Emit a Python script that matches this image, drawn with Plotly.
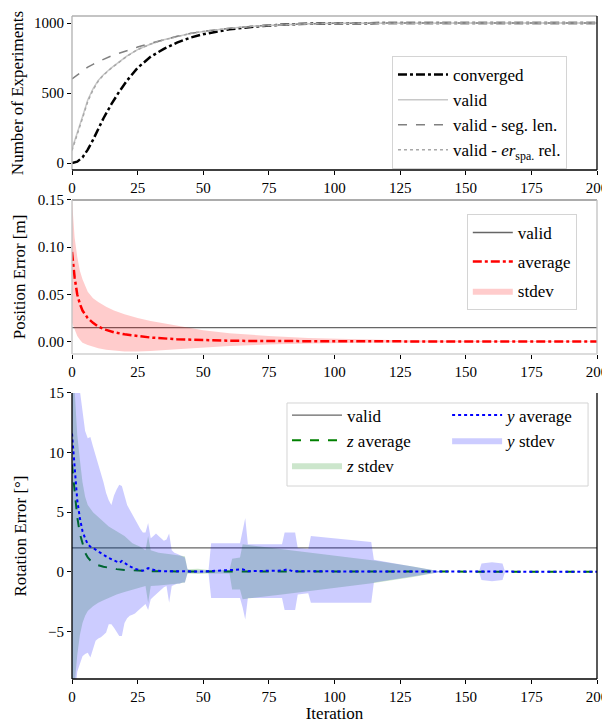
import plotly.graph_objects as go
from plotly.subplots import make_subplots

# ---- panel 1: number of experiments ----
exp_iter = [0, 2, 4, 6, 8, 10, 12, 15, 18, 21, 25, 30, 35, 40, 45, 50, 60, 70, 80, 90, 100, 125, 150, 175, 200]
converged = [0, 10, 40, 95, 165, 240, 320, 420, 510, 590, 680, 760, 815, 860, 895, 920, 955, 975, 988, 995, 998, 1000, 1000, 1000, 1000]
valid = [100, 210, 330, 450, 530, 590, 630, 680, 725, 765, 810, 850, 880, 905, 925, 940, 962, 978, 988, 995, 998, 1000, 1000, 1000, 1000]
valid_seg_len = [600, 630, 660, 685, 705, 725, 740, 765, 785, 805, 828, 856, 882, 905, 925, 940, 962, 978, 988, 995, 998, 1000, 1000, 1000, 1000]
valid_er_rel = [90, 200, 320, 440, 522, 585, 628, 678, 724, 764, 810, 850, 880, 905, 925, 940, 962, 978, 988, 995, 998, 1000, 1000, 1000, 1000]

# ---- panel 2: position error [m] ----
pos_iter = [0, 1, 2, 3, 4, 6, 8, 10, 13, 16, 20, 25, 30, 40, 50, 60, 75, 90, 110, 125, 150, 175, 200]
pos_avg = [0.095, 0.068, 0.050, 0.040, 0.033, 0.025, 0.020, 0.016, 0.0125, 0.010, 0.0078, 0.0058, 0.0044,
           0.0026, 0.0015, 0.0010, 0.0007, 0.0005, 0.0004, 0.0003, 0.0002, 0.0002, 0.0002]
pos_hi = [0.15, 0.11, 0.09, 0.075, 0.066, 0.053, 0.046, 0.042, 0.037, 0.033, 0.029, 0.025, 0.022,
          0.017, 0.012, 0.009, 0.006, 0.004, 0.0025, 0.0015, 0.001, 0.0006, 0.0005]
pos_lo = [0.02, 0.012, 0.006, 0.002, -0.001, -0.0035, -0.0055, -0.007, -0.0085, -0.0095, -0.0103, -0.0103,
          -0.0098, -0.008, -0.006, -0.0045, -0.003, -0.0018, -0.001, -0.0007, -0.0004, -0.0002, -0.0001]
pos_valid = 0.015

# ---- panel 3: rotation error ----
rot_valid = 2.0
y_band_iter = [0, 1, 2, 3, 4, 5, 6, 7, 8, 9, 10, 11, 12, 13, 14, 15, 16, 17, 18, 19, 20, 21, 22, 23, 24, 25,
               26, 27, 28, 29, 30, 31, 32, 33, 34, 35, 36, 37, 38, 39, 40, 41, 42, 43, 44, 45, 52, 53, 64,
               65, 66, 67, 80, 81, 85, 86, 90, 91, 114, 115, 130, 141, 155, 156, 160, 164, 165, 200]
y_std_hi = [22, 19, 16.5, 15.2, 13.3, 11.8, 11.2, 11.3, 10.5, 9.8, 9.0, 8.3, 7.5, 6.6, 6.0, 5.6, 6.4, 6.9,
            7.3, 7.2, 6.3, 5.6, 5.2, 4.8, 4.3, 4.0, 3.6, 3.3, 3.3, 4.1, 2.8, 3.0, 3.2, 3.0, 2.8, 2.6, 2.7,
            3.2, 1.8, 1.6, 1.5, 1.4, 1.3, 1.2, 0.2, 0.1, 0.1, 2.4, 2.4, 3.5, 4.5, 2.3, 2.3, 3.3, 3.3, 2.0,
            1.9, 3.0, 2.5, 1.0, 0.45, 0.0, 0.0, 0.7, 0.8, 0.7, 0.0, 0.0]
y_std_lo = [-14, -10.5, -8.4, -7.7, -7.1, -6.9, -6.8, -7.2, -6.5, -5.8, -5.6, -5.5, -5.3, -5.1, -4.4, -4.4,
            -4.7, -5.0, -5.4, -5.4, -4.3, -3.9, -3.7, -3.6, -3.5, -3.3, -3.1, -2.9, -2.7, -3.2, -2.3, -2.1,
            -1.9, -1.7, -1.5, -1.3, -1.2, -2.6, -1.2, -1.1, -1.0, -1.0, -0.9, -0.9, -0.1, -0.1, -0.1, -2.2,
            -2.2, -3.0, -4.0, -2.2, -2.2, -3.2, -3.2, -1.9, -1.8, -2.6, -2.6, -0.9, -0.4, 0.0, 0.0, -0.7,
            -0.8, -0.7, 0.0, 0.0]
z_band_iter = [0, 1, 2, 3, 4, 5, 6, 8, 10, 12, 14, 17, 20, 23, 26, 28, 29, 30, 33, 36, 40, 43, 44, 48, 52,
               60, 61, 64, 65, 80, 100, 115, 130, 141, 200]
z_std_hi = [19, 15.5, 11.5, 9.4, 7.5, 6.3, 5.6, 5.0, 4.6, 4.2, 3.8, 3.4, 3.0, 2.4, 2.1, 1.8, 3.0, 1.8, 1.6,
            1.5, 1.4, 1.3, 0.2, 0.25, 0.15, 0.15, 1.1, 1.2, 2.3, 1.9, 1.35, 0.95, 0.45, 0.0, 0.0]
z_std_lo = [-12, -9.5, -7.0, -5.3, -4.3, -3.7, -3.3, -2.9, -2.6, -2.4, -2.2, -1.9, -1.7, -1.5, -1.3, -1.2,
            -2.6, -1.2, -1.15, -1.1, -1.0, -0.9, -0.15, -0.2, -0.15, -0.15, -1.5, -1.5, -2.3, -1.9, -1.35,
            -0.95, -0.45, 0.0, 0.0]
z_avg_iter = [0, 1, 2, 3, 4, 5, 6, 7, 8, 10, 12, 14, 17, 20, 25, 30, 40, 60, 100, 200]
z_avg = [9.0, 6.6, 4.6, 3.2, 2.3, 1.6, 1.2, 0.95, 0.8, 0.55, 0.42, 0.32, 0.22, 0.15, 0.08, 0.05, 0.03, 0.02, 0.01, 0.0]
y_avg_iter = [0, 1, 2, 3, 4, 5, 6, 7, 8, 10, 12, 14, 16, 18, 19, 20, 22, 24, 26, 27, 29, 30, 32, 35, 40,
              50, 65, 67, 80, 82, 84, 100, 200]
y_avg = [11.6, 9.0, 6.0, 4.5, 3.4, 2.8, 2.3, 2.1, 2.0, 1.7, 1.4, 1.15, 0.95, 0.75, 0.9, 0.75, 0.45, 0.25,
         0.12, 0.08, 0.3, 0.25, 0.1, 0.05, 0.03, 0.02, 0.2, 0.05, 0.1, 0.2, 0.05, 0.03, 0.0]

x_ticks = [0, 25, 50, 75, 100, 125, 150, 175, 200]
FONT = "Liberation Serif"

fig = make_subplots(rows=3, cols=1, shared_xaxes=False)

# panel 1
fig.add_trace(go.Scatter(x=exp_iter, y=converged, mode="lines", name="converged", legend="legend",
                         line=dict(color="black", width=2.5, dash="dashdot")), row=1, col=1)
fig.add_trace(go.Scatter(x=exp_iter, y=valid, mode="lines", name="valid", legend="legend",
                         line=dict(color="#c8c8c8", width=1.5)), row=1, col=1)
fig.add_trace(go.Scatter(x=exp_iter, y=valid_seg_len, mode="lines", name="valid - seg. len.", legend="legend",
                         line=dict(color="#808080", width=1.5, dash="dash")), row=1, col=1)
fig.add_trace(go.Scatter(x=exp_iter, y=valid_er_rel, mode="lines", legend="legend",
                         name="valid - <i>er</i><sub>spa.</sub> rel.",
                         line=dict(color="#a8a8a8", width=1.5, dash="dot")), row=1, col=1)

# panel 2 (one legend group per entry so the rows can be spaced)
fig.add_trace(go.Scatter(x=[0, 200], y=[pos_valid, pos_valid], mode="lines", name="valid", legend="legend2",
                         legendgroup="p_valid", line=dict(color="#666666", width=1.3)), row=2, col=1)
fig.add_trace(go.Scatter(x=pos_iter, y=pos_avg, mode="lines", name="average", legend="legend2",
                         legendgroup="p_avg", line=dict(color="red", width=2.5, dash="dashdot")), row=2, col=1)
fig.add_trace(go.Scatter(x=pos_iter, y=pos_lo, mode="lines", line=dict(width=0), showlegend=False,
                         legend="legend2", legendgroup="p_std", hoverinfo="skip"), row=2, col=1)
fig.add_trace(go.Scatter(x=pos_iter, y=pos_hi, mode="lines", name="stdev", legend="legend2",
                         legendgroup="p_std", fill="tonexty", fillcolor="rgba(255,0,0,0.2)",
                         line=dict(width=0)), row=2, col=1)

# panel 3
fig.add_trace(go.Scatter(x=[0, 200], y=[rot_valid, rot_valid], mode="lines", name="valid", legend="legend3",
                         line=dict(color="#666666", width=1.3)), row=3, col=1)
fig.add_trace(go.Scatter(x=z_avg_iter, y=z_avg, mode="lines", name="<i>z</i> average", legend="legend3",
                         line=dict(color="green", width=2, dash="dash")), row=3, col=1)
fig.add_trace(go.Scatter(x=z_band_iter, y=z_std_lo, mode="lines", line=dict(width=0), showlegend=False,
                         legend="legend3", hoverinfo="skip"), row=3, col=1)
fig.add_trace(go.Scatter(x=z_band_iter, y=z_std_hi, mode="lines", name="<i>z</i> stdev", legend="legend3",
                         fill="tonexty", fillcolor="rgba(0,128,0,0.2)", line=dict(width=0)), row=3, col=1)
fig.add_trace(go.Scatter(x=y_avg_iter, y=y_avg, mode="lines", name="<i>y</i> average", legend="legend4",
                         line=dict(color="blue", width=2, dash="dot")), row=3, col=1)
fig.add_trace(go.Scatter(x=y_band_iter, y=y_std_lo, mode="lines", line=dict(width=0), showlegend=False,
                         legend="legend4", hoverinfo="skip"), row=3, col=1)
fig.add_trace(go.Scatter(x=y_band_iter, y=y_std_hi, mode="lines", name="<i>y</i> stdev", legend="legend4",
                         fill="tonexty", fillcolor="rgba(0,0,255,0.2)", line=dict(width=0)), row=3, col=1)

axis_common = dict(showgrid=False, zeroline=False, showline=False, ticks="outside", ticklen=4,
                   tickcolor="black", automargin=False,
                   tickfont=dict(family=FONT, size=15, color="black"))
title_font = dict(family=FONT, size=17, color="black")
for r in (1, 2, 3):
    fig.update_xaxes(range=[0, 200], tickvals=x_ticks, **axis_common, row=r, col=1)
fig.update_xaxes(title=dict(text="Iteration", font=title_font, standoff=5), row=3, col=1)
fig.update_yaxes(range=[-50, 1050], tickvals=[0, 500, 1000], **axis_common, row=1, col=1,
                 title=dict(text="Number of Experiments", font=title_font, standoff=7))
fig.update_yaxes(range=[-0.013, 0.15], tickvals=[0.0, 0.05, 0.10, 0.15], tickformat=".2f", **axis_common,
                 row=2, col=1, title=dict(text="Position Error [m]", font=title_font, standoff=7))
fig.update_yaxes(range=[-9, 15], tickvals=[-5, 0, 5, 10, 15], **axis_common, row=3, col=1,
                 title=dict(text="Rotation Error [°]", font=title_font, standoff=17))

fig.update_layout(
    xaxis=dict(domain=[0, 1]), yaxis=dict(domain=[0.7677, 1.0]),
    xaxis2=dict(domain=[0, 1]), yaxis2=dict(domain=[0.4902, 0.7225]),
    xaxis3=dict(domain=[0, 1]), yaxis3=dict(domain=[0.0, 0.4314]),
)

# spines
spines = [
    ("x", "y", "#b0b0b0", "#b0b0b0", "black", "black"),
    ("x2", "y2", "#909090", "#c0c0c0", "#c0c0c0", "#d0d0d0"),
    ("x3", "y3", None, "black", "black", "black"),
]
for xa, ya, top, left, right, bottom in spines:
    xr, yr = f"{xa} domain", f"{ya} domain"
    if top:
        fig.add_shape(type="line", xref=xr, yref=yr, x0=0, x1=1, y0=1, y1=1, line=dict(color=top, width=1.3))
    fig.add_shape(type="line", xref=xr, yref=yr, x0=0, x1=0, y0=0, y1=1, line=dict(color=left, width=1.3))
    fig.add_shape(type="line", xref=xr, yref=yr, x0=1, x1=1, y0=0, y1=1, line=dict(color=right, width=1.3))
    fig.add_shape(type="line", xref=xr, yref=yr, x0=0, x1=1, y0=0, y1=0, line=dict(color=bottom, width=1.5))

legend_font = dict(family=FONT, size=17, color="black")
box = dict(bgcolor="rgba(255,255,255,0.85)", bordercolor="#d4d4d4", borderwidth=1, font=legend_font)
clear = dict(bgcolor="rgba(0,0,0,0)", borderwidth=0, font=legend_font, traceorder="normal", itemwidth=50)
# the page body adds an 8px offset, so the figure is 8px smaller than the window
fig.update_layout(
    width=602, height=715,
    margin=dict(l=64, r=13, t=8, b=44),
    paper_bgcolor="white", plot_bgcolor="white",
    legend=dict(x=0.6095, y=0.9397, xanchor="left", yanchor="top", itemwidth=50, traceorder="normal", **box),
    legend2=dict(x=0.752, y=0.7014, xanchor="left", yanchor="top", traceorder="grouped", tracegroupgap=4,
                 itemwidth=40, **box),
    legend3=dict(x=0.4095, y=0.4245, xanchor="left", yanchor="top", **clear),
    legend4=dict(x=0.7145, y=0.4245, xanchor="left", yanchor="top", **clear),
    showlegend=True,
)
# frame of the two-column rotation legend
fig.add_shape(type="rect", xref="paper", yref="paper", x0=0.4095, x1=0.983, y0=0.2911, y1=0.4163,
              line=dict(color="#d4d4d4", width=1), fillcolor="rgba(255,255,255,0.85)", layer="below")

fig.write_html("out.html")
